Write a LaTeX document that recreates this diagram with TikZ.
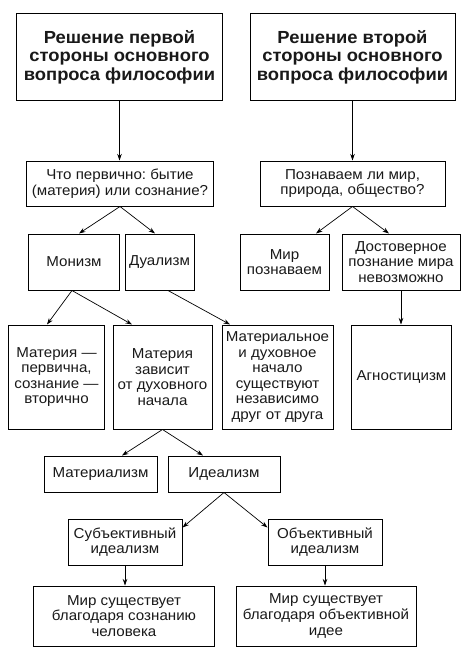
\documentclass[tikz,border=0pt]{standalone}
\usepackage{fontspec}
\setmainfont{Liberation Sans}[FakeStretch=1.05]
\usetikzlibrary{arrows.meta,calc}
\frenchspacing
\begin{document}
\begin{tikzpicture}[x=1bp,y=-1bp]
\tikzset{
 box/.style={draw, line width=1bp, inner sep=0pt, align=center, font=\fontsize{14.4bp}{15.6bp}\selectfont, text=black!90},
 titlebox/.style={box, font=\bfseries\fontsize{17.5bp}{18.4bp}\selectfont},
 arr/.style={line width=0.7bp, -{Stealth[length=6.5bp,width=4.5bp]}}
}
\useasboundingbox (0,0) rectangle (473,657);
\fill[white] (0,0) rectangle (473,657);
\node[titlebox, minimum width=205bp, minimum height=86bp] (t1) at (119.5,57) {Решение первой\\стороны основного\\вопроса философии};
\node[titlebox, minimum width=205bp, minimum height=86bp] (t2) at (352.5,57) {Решение второй\\стороны основного\\вопроса философии};
\node[box, minimum width=186bp, minimum height=45bp] (q1) at (120,183.5) {Что первично: бытие\\(материя) или сознание?};
\node[box, minimum width=185bp, minimum height=45bp] (q2) at (352.5,183.5) {Познаваем ли мир,\\природа, общество?};
\node[box, minimum width=90bp, minimum height=56bp] (mon) at (74,262) {Монизм};
\node[box, minimum width=69bp, minimum height=56bp] (dual) at (159.5,262) {Дуализм};
\node[box, minimum width=89bp, minimum height=56bp] (mir) at (284.5,262) {Мир\\познаваем};
\node[box, minimum width=118bp, minimum height=56bp] (dost) at (401,262) {Достоверное\\познание мира\\невозможно};
\node[box, minimum width=95bp, minimum height=104bp] (r1) at (56.5,377) {Материя —\\первична,\\сознание —\\вторично};
\node[box, minimum width=99bp, minimum height=104bp] (r2) at (162.5,377) {Материя\\зависит\\от духовного\\начала};
\node[box, minimum width=111bp, minimum height=104bp] (r3) at (277.5,377) {Материальное\\и духовное\\начало\\существуют\\независимо\\друг от друга};
\node[box, minimum width=100bp, minimum height=104bp] (agn) at (401.5,377) {Агностицизм};
\node[box, minimum width=113bp, minimum height=36bp] (mat) at (100.5,474) {Материализм};
\node[box, minimum width=112bp, minimum height=36bp] (ide) at (224,474) {Идеализм};
\node[box, minimum width=114bp, minimum height=46bp] (sub) at (125,542) {Субъективный\\идеализм};
\node[box, minimum width=114bp, minimum height=46bp] (obj) at (325,542) {Объективный\\идеализм};
\node[box, minimum width=180bp, minimum height=60bp] (w1) at (124,616) {Мир существует\\благодаря сознанию\\человека};
\node[box, minimum width=180bp, minimum height=60bp] (w2) at (326,616) {Мир существует\\благодаря объективной\\идее};
\draw[arr] (t1.south) -- (t1.south |- q1.north);
\draw[arr] (t2.south) -- (t2.south |- q2.north);
\draw[arr] (q1.south) -- ($(mon.north)+(5,0)$);
\draw[arr] (q1.south) -- ($(dual.north)+(-4.5,0)$);
\draw[arr] (q2.south) -- ($(mir.north)+(31.5,0)$);
\draw[arr] (q2.south) -- ($(dost.north)+(-12,0)$);
\draw[arr] ($(mon.south)+(-2,0)$) -- ($(r1.north)+(-9.5,0)$);
\draw[arr] ($(mon.south)+(-2,0)$) -- ($(r2.north)+(-30.5,0)$);
\draw[arr] ($(dual.south)+(8.5,0)$) -- ($(r3.north)+(-47.5,0)$);
\draw[arr] (dost.south) -- (dost.south |- agn.north);
\draw[arr] (r2.south) -- ($(mat.north)+(21.5,0)$);
\draw[arr] (r2.south) -- ($(ide.north)+(-21,0)$);
\draw[arr] (ide.south) -- ($(sub.north east)+(0,9)$);
\draw[arr] (ide.south) -- ($(obj.north west)+(0,9)$);
\draw[arr] (sub.south) -- (sub.south |- w1.north);
\draw[arr] (obj.south) -- (obj.south |- w2.north);
\end{tikzpicture}
\end{document}
